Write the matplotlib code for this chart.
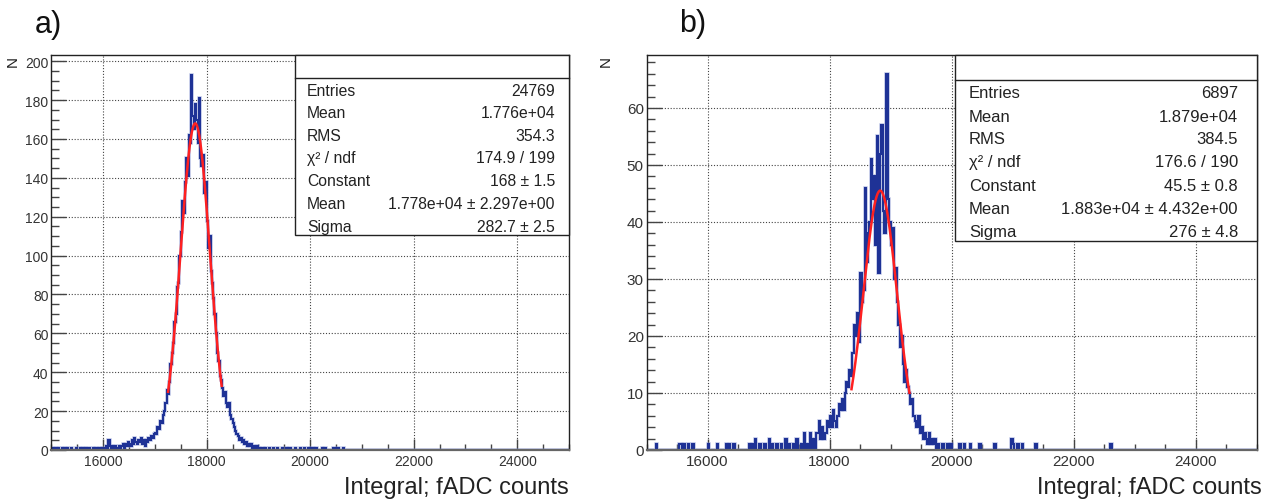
import numpy as np
import matplotlib
matplotlib.use("Agg")
import matplotlib.pyplot as plt
from matplotlib.patches import Rectangle
from matplotlib.ticker import MultipleLocator

plt.rcParams["font.family"] = ["Liberation Sans", "DejaVu Sans"]

# histogram binning (both panels)
X_MIN, X_MAX, BIN_W = 15000, 25000, 25

# ---- panel a -------------------------------------------------------------
core_start_a = 16000
core_a = [
    1, 0, 2, 1, 5, 2, 1, 2, 1, 2, 0, 1, 2, 1, 2, 3, 1, 3, 2, 4,
    3, 2, 5, 3, 6, 4, 3, 5, 4, 6, 3, 5, 2, 5, 4, 6, 5, 7, 6, 8,
    9, 8, 12, 11, 15, 14, 18, 20, 24, 31, 29, 35, 44, 50, 55, 66,
    70, 84, 86, 100, 112, 128, 122, 138, 150, 141, 162, 158,
    193, 172, 165, 178, 170, 158, 181, 150, 146, 152, 132, 138,
    118, 104, 110, 92, 86, 78, 70, 60, 50, 46, 38, 36,
    32, 28, 30, 24, 22, 24, 18, 16, 14, 12, 10, 8, 7, 5, 6, 4,
    5, 3, 4, 2, 3, 2, 3, 1, 2, 1, 1, 2, 1, 0, 1, 1, 0, 1, 0, 0,
    1, 0, 0, 1, 0, 0, 1, 0,
]
tail_x_a = [15025, 15075, 15125, 15200, 15250, 15300, 15375, 15475, 15550,
            15600, 15650, 15700, 15725, 15800, 15850, 15925, 15975,
            19450, 19525, 19600, 19700, 19800, 19875, 19950, 20000, 20050,
            20100, 20225, 20275, 20450, 20525, 20625]
tail_n_a = [1] * len(tail_x_a)
fit_a = {"const": 168.0, "mean": 1.778e4, "sigma": 282.7, "range": (17255, 18290)}
stats_a = [
    ("Entries", "24769"),
    ("Mean", "1.776e+04"),
    ("RMS", "354.3"),
    ("χ² / ndf", "174.9 / 199"),
    ("Constant", "168 ± 1.5"),
    ("Mean", "1.778e+04 ± 2.297e+00"),
    ("Sigma", "282.7 ± 2.5"),
]

# ---- panel b -------------------------------------------------------------
core_start_b = 17800
core_b = [
    3, 5, 2, 4, 2, 3, 5, 4, 6, 4, 7, 5, 4, 6, 8, 7,
    9, 7, 10, 12, 11, 14, 13, 17, 22, 20, 24, 19, 31, 26, 28, 46,
    33, 38, 40, 51, 44, 48, 36, 55, 31, 52, 57, 42, 38, 66, 44, 40,
    36, 39, 30, 32, 26, 22, 18, 20, 15, 12, 14, 11, 10, 8, 9, 6,
    5, 4, 6, 3, 4, 2, 3, 2, 1, 3, 1, 2, 1, 2, 0, 1,
]
tail_x_b = [15150, 15525, 15550, 15600, 15675, 15750, 16000, 16150, 16300,
            16350, 16425, 16675, 16725, 16775, 16850, 16925, 17000, 17050,
            17125, 17200, 17275, 17325, 17400, 17450, 17525, 17575, 17625,
            17675, 17725, 17775,
            19850, 19925, 19975, 20125, 20200, 20300, 20450, 20700, 20975,
            21000, 21075, 21150, 21375, 22600]
tail_n_b = [1, 1, 1, 1, 1, 1, 1, 1, 1,
            1, 1, 1, 1, 2, 1, 1, 2, 1,
            1, 1, 2, 1, 1, 2, 1, 3, 1,
            3, 2, 3,
            1, 1, 1, 1, 1, 1, 1, 1, 2,
            1, 1, 1, 1, 1]
fit_b = {"const": 45.5, "mean": 1.883e4, "sigma": 276.0, "range": (18360, 19310)}
stats_b = [
    ("Entries", "6897"),
    ("Mean", "1.879e+04"),
    ("RMS", "384.5"),
    ("χ² / ndf", "176.6 / 190"),
    ("Constant", "45.5 ± 0.8"),
    ("Mean", "1.883e+04 ± 4.432e+00"),
    ("Sigma", "276 ± 4.8"),
]

HIST_COLOR = "#1e3296"
FIT_COLOR = "#ff2020"


def build_counts(core_start, core, tail_x, tail_n):
    edges = np.arange(X_MIN, X_MAX + BIN_W, BIN_W)
    counts = np.zeros(len(edges) - 1)
    i0 = (core_start - X_MIN) // BIN_W
    counts[i0:i0 + len(core)] = core
    for x, n in zip(tail_x, tail_n):
        counts[(x - X_MIN) // BIN_W] = n
    return edges, counts


def draw_panel(ax, edges, counts, fit, stats, ymax, ymaj, ymin_step, fs,
               box, rows, tick_fs):
    # soft halo + main line gives the dense, slightly blurred band look
    ax.stairs(counts, edges, color="#7f8fd0", lw=2.6, alpha=0.45,
              baseline=None, zorder=2)
    ax.stairs(counts, edges, color=HIST_COLOR, lw=1.5, baseline=None,
              zorder=2)
    lo, hi = fit["range"]
    xf = np.linspace(lo, hi, 300)
    yf = fit["const"] * np.exp(-0.5 * ((xf - fit["mean"]) / fit["sigma"]) ** 2)
    ax.plot(xf, yf, color=FIT_COLOR, lw=1.8, zorder=3)

    ax.set_xlim(X_MIN, X_MAX)
    ax.set_ylim(0, ymax)
    ax.xaxis.set_major_locator(MultipleLocator(2000))
    ax.xaxis.set_minor_locator(MultipleLocator(500))
    ax.yaxis.set_major_locator(MultipleLocator(ymaj))
    ax.yaxis.set_minor_locator(MultipleLocator(ymin_step))
    ax.tick_params(axis="x", which="major", direction="in", length=8,
                   width=1, color="#444", labelsize=tick_fs, pad=3,
                   labelcolor="#333")
    ax.tick_params(axis="x", which="minor", direction="in", length=4.5,
                   width=1, color="#444")
    ax.tick_params(axis="y", which="major", direction="in", length=11,
                   width=1, color="#444", labelsize=tick_fs, pad=2,
                   labelcolor="#333")
    ax.tick_params(axis="y", which="minor", direction="in", length=6,
                   width=1, color="#444")
    ax.grid(True, which="major", color="#444", linestyle=(0, (1, 1.6)),
            lw=0.8, zorder=1)
    for s in ax.spines.values():
        s.set_color("#222")
        s.set_linewidth(1.0)
        s.set_zorder(6)
    ax.spines["bottom"].set_color("#666")
    ax.spines["bottom"].set_linewidth(1.6)

    # stats box
    x0, y0, sep = box
    ax.add_patch(Rectangle((x0, y0), 1.0 - x0, 1.0 - y0, transform=ax.transAxes,
                           facecolor="white", edgecolor="#222", lw=1.0,
                           zorder=7, clip_on=False))
    ax.plot([x0, 1.0], [sep, sep], transform=ax.transAxes, color="#222",
            lw=1.0, zorder=8, clip_on=False)
    tx_l, tx_r = rows[0], rows[1]
    for (name, val), yy in zip(stats, rows[2]):
        ax.text(tx_l, yy, name, transform=ax.transAxes, fontsize=fs,
                color="#222", va="center", ha="left", zorder=9)
        ax.text(tx_r, yy, val, transform=ax.transAxes, fontsize=fs,
                color="#222", va="center", ha="right", zorder=9)


fig = plt.figure(figsize=(12.74, 5.02), dpi=100)
ax_a = fig.add_axes([0.0403, 0.1016, 0.4063, 0.7869])
ax_b = fig.add_axes([0.5075, 0.1016, 0.4788, 0.7869])

edges_a, counts_a = build_counts(core_start_a, core_a, tail_x_a, tail_n_a)
edges_b, counts_b = build_counts(core_start_b, core_b, tail_x_b, tail_n_b)

draw_panel(ax_a, edges_a, counts_a, fit_a, stats_a, 203.2, 20, 5, 11.3,
           (0.4707, 0.5443, 0.941),
           (0.4939, 0.973, [0.9096, 0.8532, 0.7957, 0.7392, 0.6810,
                            0.6228, 0.5658]), 10)
draw_panel(ax_b, edges_b, counts_b, fit_b, stats_b, 69.3, 10, 2, 12,
           (0.5057, 0.5291, 0.9375),
           (0.5287, 0.9692, [0.9056, 0.8438, 0.7873, 0.7291, 0.6691,
                             0.6101, 0.5527]), 11)

fig.text(569 / 1274, 1 - 494 / 502, "Integral; fADC counts", ha="right",
         va="baseline", fontsize=17, color="#222")
fig.text(1262 / 1274, 1 - 494 / 502, "Integral; fADC counts", ha="right",
         va="baseline", fontsize=17, color="#222")

fig.text(13 / 1274, 1 - 56 / 502, "N", rotation=90, ha="center", va="top",
         fontsize=11, color="#222")
fig.text(606 / 1274, 1 - 56 / 502, "N", rotation=90, ha="center", va="top",
         fontsize=11, color="#222")
fig.text(35 / 1274, 1 - 25 / 502, "a)", ha="left", va="center", fontsize=22,
         color="#111")
fig.text(679 / 1274, 1 - 24 / 502, "b)", ha="left", va="center", fontsize=22,
         color="#111")

fig.savefig("out.png", dpi=100, facecolor="white")
